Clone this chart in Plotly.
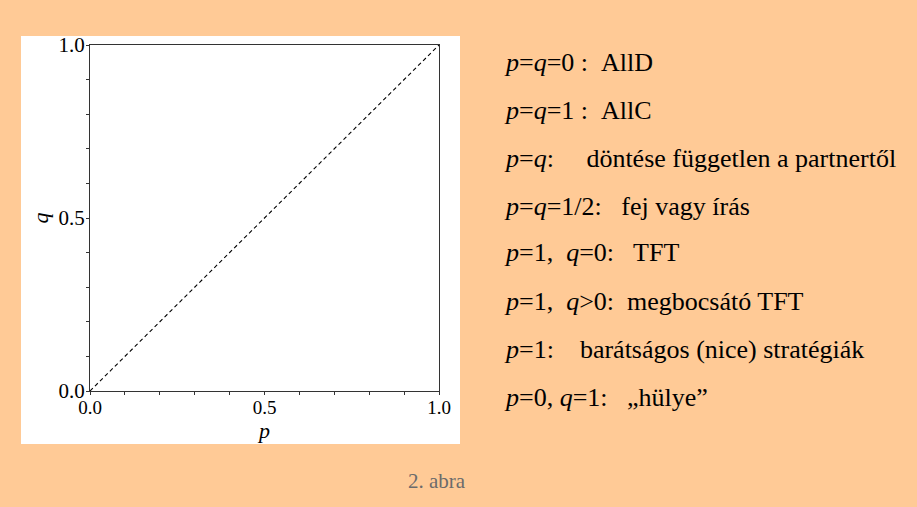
import plotly.graph_objects as go

# Data
diag_p = [0.0, 1.0]
diag_q = [0.0, 1.0]
tick_vals = [0.0, 0.5, 1.0]
tick_text = ["0.0", "0.5", "1.0"]
lines = [
    "<i>p</i>=<i>q</i>=0 :\u00a0\u00a0AllD",
    "<i>p</i>=<i>q</i>=1 :\u00a0\u00a0AllC",
    "<i>p</i>=<i>q</i>:\u00a0\u00a0\u00a0\u00a0 döntése független a partnertől",
    "<i>p</i>=<i>q</i>=1/2:\u00a0\u00a0 fej vagy írás",
    "<i>p</i>=1,\u00a0 <i>q</i>=0:\u00a0\u00a0 TFT",
    "<i>p</i>=1,\u00a0 <i>q</i>&gt;0:\u00a0 megbocsátó TFT",
    "<i>p</i>=1:\u00a0\u00a0\u00a0 barátságos (nice) stratégiák",
    "<i>p</i>=0, <i>q</i>=1:\u00a0\u00a0 „hülye”",
]
caption = "2. abra"

W, H = 917, 507
L, R, T, B = 90, 439, 45, 391
BG = "#FFCA96"
SERIF = "Liberation Serif"

def px(x):
    return (x - L) / (R - L)

def py(y):
    return (B - y) / (B - T)

fig = go.Figure()
fig.add_trace(go.Scatter(x=diag_p, y=diag_q, mode="lines",
                         line=dict(color="black", width=1.1, dash="4px,3px"),
                         showlegend=False, hoverinfo="skip"))

axis_common = dict(range=[0, 1], tickvals=tick_vals, ticktext=tick_text,
                   showgrid=False, zeroline=False, showline=True, mirror=True,
                   linecolor="#333333", linewidth=1.3, ticks="outside", ticklen=3,
                   tickcolor="#333333", tickwidth=1,
                   minor=dict(dtick=0.1, ticks="outside", ticklen=3, tickcolor="#333333", tickwidth=1),
                   fixedrange=True)

fig.update_xaxes(**axis_common,
                 tickfont=dict(family=SERIF, size=19, color="black"),
                 ticklabelstandoff=-4,
                 title=dict(text="<i>p</i>", font=dict(family=SERIF, size=22, color="black"), standoff=0))
fig.update_yaxes(**axis_common,
                 tickfont=dict(family=SERIF, size=21, color="black"),
                 ticklabelstandoff=-3,
                 title=dict(text="<i>q</i>", font=dict(family=SERIF, size=22, color="black"), standoff=3))

# white panel behind the plot
fig.add_shape(type="rect", xref="paper", yref="paper",
              x0=px(21), x1=px(460), y0=py(444), y1=py(36),
              fillcolor="white", line=dict(width=0), layer="below")

ys = [62, 110, 158, 206, 253, 301, 349, 397]
for text, yy in zip(lines, ys):
    fig.add_annotation(text=text, xref="paper", yref="paper", x=px(502), y=py(yy),
                       xanchor="left", yanchor="middle", showarrow=False,
                       font=dict(family=SERIF, size=26, color="black"))

fig.add_annotation(text=caption, xref="paper", yref="paper", x=px(437), y=py(481),
                   xanchor="center", yanchor="middle", showarrow=False,
                   font=dict(family=SERIF, size=21, color="#6b6b6b"))

fig.update_layout(width=W, height=H, margin=dict(l=L, r=W - R, t=T, b=H - B),
                  paper_bgcolor=BG, plot_bgcolor="white", showlegend=False)

fig.write_html("out.html", config={"displayModeBar": False},
               post_script="document.body.style.margin='0';document.body.style.background='" + BG + "';")
